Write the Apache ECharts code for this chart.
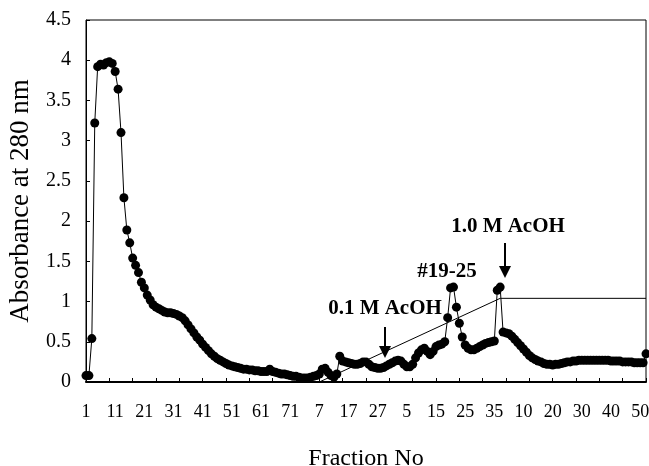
<!DOCTYPE html>
<html>
<head>
<meta charset="utf-8">
<script src="https://cdn.jsdelivr.net/npm/echarts@6/dist/echarts.min.js"></script>
<style>
  html, body { margin: 0; padding: 0; background: #fff; }
  #chart { width: 649px; height: 466px; }
</style>
</head>
<body>
<div id="chart"></div>
<script>
// number of fractions collected in each run (numbering restarts at 1)
const runSizes = [74, 32, 35, 52];

// absorbance at 280 nm, one value per fraction
const run1 = [
  0.08, 0.08, 0.54, 3.22, 3.92, 3.95, 3.94, 3.97, 3.98, 3.96,
  3.86, 3.64, 3.10, 2.29, 1.89, 1.73, 1.54, 1.45, 1.36, 1.24,
  1.17, 1.08, 1.02, 0.96, 0.93, 0.91, 0.89, 0.87, 0.86, 0.86,
  0.85, 0.84, 0.82, 0.80, 0.76, 0.71, 0.66, 0.61, 0.56, 0.52,
  0.47, 0.43, 0.39, 0.35, 0.32, 0.29, 0.27, 0.25, 0.23, 0.21,
  0.20, 0.19, 0.18, 0.17, 0.16, 0.16, 0.15, 0.15, 0.14, 0.14,
  0.13, 0.13, 0.13, 0.16, 0.13, 0.12, 0.11, 0.10, 0.10, 0.09,
  0.08, 0.07, 0.07, 0.06
];
const run2 = [
  0.05, 0.05, 0.05, 0.06, 0.07, 0.08, 0.10, 0.16, 0.17, 0.12,
  0.08, 0.06, 0.10, 0.32, 0.26, 0.25, 0.24, 0.23, 0.22, 0.22,
  0.23, 0.25, 0.25, 0.22, 0.19, 0.18, 0.17, 0.17, 0.18, 0.20,
  0.22, 0.24
];
const run3 = [
  0.26, 0.27, 0.26, 0.22, 0.19, 0.19, 0.22, 0.30, 0.36, 0.40,
  0.42, 0.38, 0.34, 0.38, 0.44, 0.46, 0.47, 0.50, 0.80, 1.17,
  1.18, 0.93, 0.73, 0.56, 0.46, 0.42, 0.40, 0.40, 0.42, 0.44,
  0.46, 0.48, 0.49, 0.50, 0.51
];
const run4 = [
  1.14, 1.18, 0.62, 0.61, 0.60, 0.57, 0.53, 0.49, 0.45, 0.41,
  0.37, 0.33, 0.30, 0.28, 0.26, 0.25, 0.23, 0.22, 0.22, 0.21,
  0.22, 0.22, 0.23, 0.24, 0.25, 0.25, 0.26, 0.26, 0.27, 0.27,
  0.27, 0.27, 0.27, 0.27, 0.27, 0.27, 0.27, 0.27, 0.27, 0.26,
  0.26, 0.26, 0.26, 0.25, 0.25, 0.25, 0.25, 0.24, 0.24, 0.24,
  0.24, 0.35
];

// elution gradient (AcOH), given only at its corner points
const gradientAt = [0, 80, 142, 192];
const gradientVal = [0, 0, 1.04, 1.04];

const categories = [];
runSizes.forEach(function (n) {
  for (let f = 1; f <= n; f++) categories.push(String(f));
});
const absorbance = run1.concat(run2, run3, run4);
const gradient = categories.map(function () { return null; });
gradientAt.forEach(function (idx, k) { gradient[idx] = gradientVal[k]; });

const serif = '"Liberation Serif", "DejaVu Serif", serif';
const chart = echarts.init(document.getElementById('chart'));

function arrow(x, y1, y2) {
  return [
    { type: 'line', shape: { x1: x, y1: y1, x2: x, y2: y2 - 10 },
      style: { stroke: '#000', lineWidth: 2 } },
    { type: 'polygon', shape: { points: [[x - 6, y2 - 12], [x + 6, y2 - 12], [x, y2]] },
      style: { fill: '#000' } }
  ];
}

const option = {
  animation: false,
  textStyle: { fontFamily: serif, color: '#000' },
  grid: {
    left: 86, right: 3, top: 20, bottom: 84,
    outerBoundsMode: 'none',
    containLabel: false,
    show: true, borderColor: '#000', borderWidth: 1
  },
  xAxis: {
    type: 'category',
    data: categories,
    boundaryGap: false,
    name: 'Fraction No',
    nameLocation: 'middle',
    nameGap: 65,
    nameTextStyle: { fontFamily: serif, fontSize: 24, color: '#000' },
    axisLine: { lineStyle: { color: '#000', width: 2 } },
    axisTick: { inside: true, interval: 7, length: 4, lineStyle: { color: '#000' } },
    axisLabel: { interval: 9, margin: 21, fontFamily: serif, fontSize: 18, color: '#000' },
    splitLine: { show: false }
  },
  yAxis: {
    type: 'value',
    min: 0, max: 4.5, interval: 0.5,
    name: 'Absorbance at 280 nm',
    nameLocation: 'middle',
    nameGap: 52,
    nameTextStyle: { fontFamily: serif, fontSize: 27, color: '#000' },
    axisLine: { show: true, lineStyle: { color: '#000', width: 1 } },
    axisTick: { show: true, inside: true, length: 4, lineStyle: { color: '#000' } },
    axisLabel: { margin: 15, fontFamily: serif, fontSize: 20, color: '#000' },
    splitLine: { show: false }
  },
  series: [
    {
      name: 'Gradient',
      type: 'line',
      data: gradient,
      connectNulls: true,
      showSymbol: false,
      lineStyle: { color: '#000', width: 1 },
      z: 1
    },
    {
      name: 'A280',
      type: 'line',
      data: absorbance,
      symbol: 'circle',
      symbolSize: 9,
      showAllSymbol: true,
      itemStyle: { color: '#000' },
      lineStyle: { color: '#000', width: 1 },
      z: 2
    }
  ],
  graphic: [
    { type: 'text', x: 385, y: 309,
      style: { text: '0.1 M AcOH', font: 'bold 21px ' + serif, fill: '#000', align: 'center', verticalAlign: 'middle' } },
    { type: 'text', x: 447, y: 272,
      style: { text: '#19-25', font: 'bold 21px ' + serif, fill: '#000', align: 'center', verticalAlign: 'middle' } },
    { type: 'text', x: 508, y: 227,
      style: { text: '1.0 M AcOH', font: 'bold 21px ' + serif, fill: '#000', align: 'center', verticalAlign: 'middle' } }
  ].concat(arrow(385, 327, 358), arrow(505, 243, 278))
};

chart.setOption(option);
</script>
</body>
</html>
